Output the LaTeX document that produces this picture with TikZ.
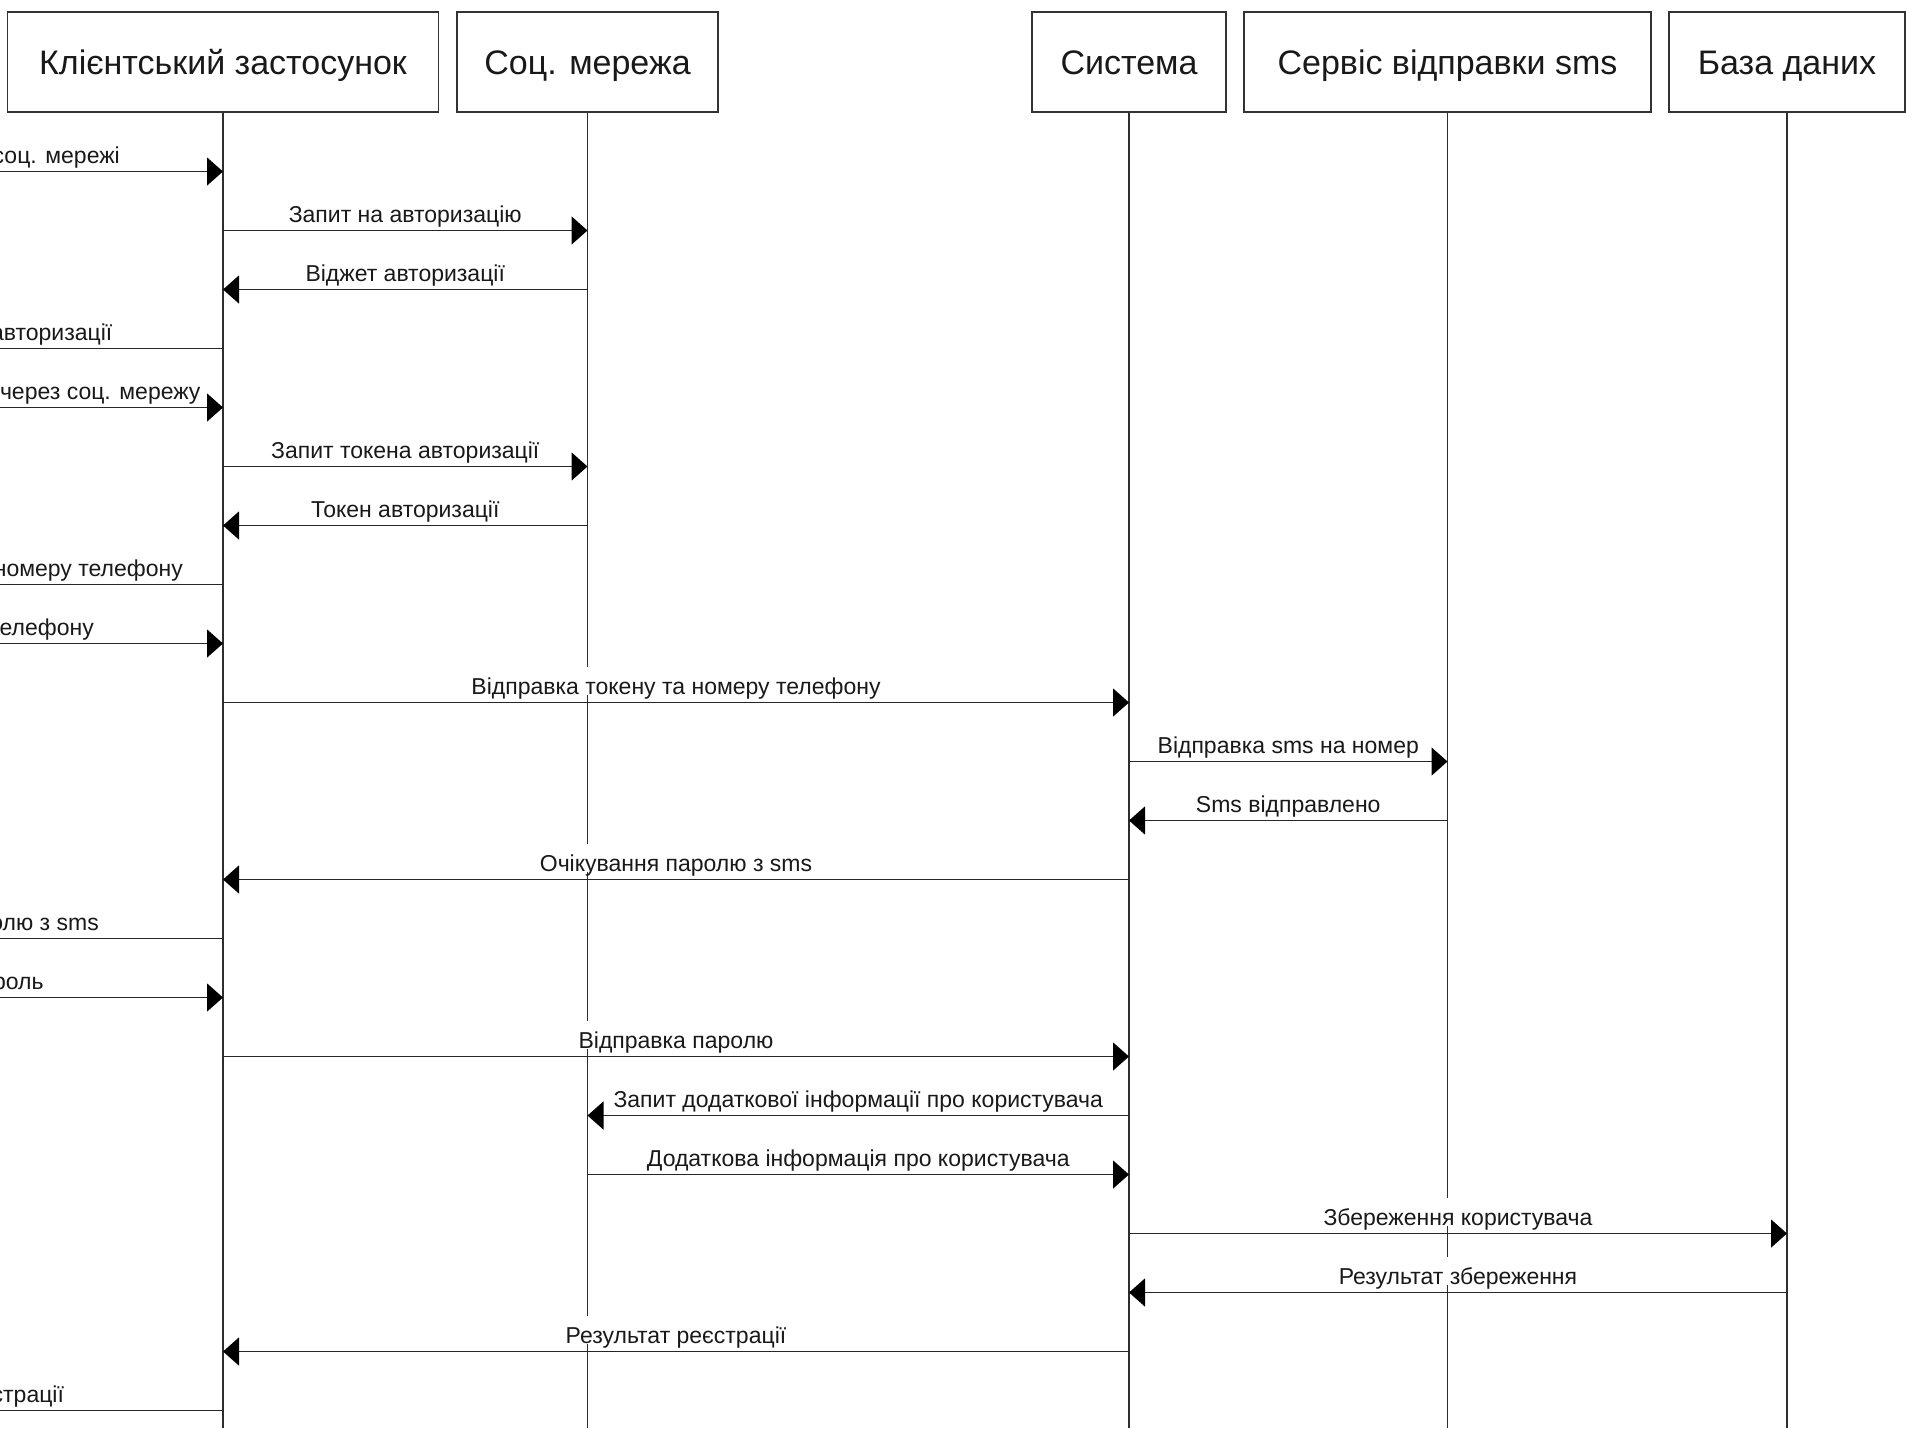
\documentclass[tikz,border=0pt]{standalone}
\usepackage{fontspec}
\setmainfont{Liberation Sans}
\usetikzlibrary{arrows.meta,calc}

% one message between two lifelines: from, to, row, label
\newcommand\sendmsg[4]{%
  \node[lbl] (l#3) at ($(#1 |- r#3)!0.5!(#2 |- r#3) + (0,-8)$) {#4};
  \draw[msg] (#1 |- r#3) -- (#2 |- r#3);}
% label of a message whose other end lies past the left edge: row, right end x, label
\newcommand\sidelbl[3]{%
  \node[lbl, anchor=base east] (l#1) at ($(r#1) + (#2,-8)$) {#3};}

\begin{document}
\begin{tikzpicture}[x=1pt, y=-1pt,
  actor/.style={draw=black!80, line width=1.5pt, fill=white, minimum height=100pt,
    inner sep=0pt, text height=24.5pt, text depth=0pt,
    font=\fontsize{34}{40}\selectfont, text=black!90},
  life/.style={draw=black!82, line width=1.6pt},
  msg/.style={draw=black!85, line width=1.5pt, -{Triangle[length=16pt,width=28pt,black]}},
  lbl/.style={fill=white, inner xsep=1pt, inner ysep=0pt, text height=28pt, text depth=0pt,
    font=\fontsize{23}{27}\selectfont, text=black!90, anchor=base},
]
\useasboundingbox (0,0) rectangle (1906,1428);
\clip (0,0) rectangle (1906,1428);

% participants
\node[actor, minimum width=431pt] (cl) at (223,62)    {Клієнтський застосунок};
\node[actor, minimum width=261pt] (sn) at (587.5,62)  {Соц. мережа};
\node[actor, minimum width=194pt] (sy) at (1129,62)   {Система};
\node[actor, minimum width=407pt] (sm) at (1447.5,62) {Сервіс відправки sms};
\node[actor, minimum width=236pt] (db) at (1787,62)   {База даних};

% lifelines
\coordinate (bot) at (0,1428);
\coordinate (usr) at (-300,0);
\foreach \n in {cl,sn,sy,sm,db}
  \draw[life] (\n.south) -- (\n.south |- bot);

% message rows
\foreach \i in {1,...,22}
  \coordinate (r\i) at (0,{171.5+59*(\i-1)});

% messages
\sidelbl{1}{121}{соц. мережі}
\draw[msg] (usr |- r1) -- (cl |- r1);
\sendmsg{cl}{sn}{2}{Запит на авторизацію}
\sendmsg{sn}{cl}{3}{Віджет авторизації}
\sidelbl{4}{113.5}{авторизації}
\draw[msg] (cl |- r4) -- (usr |- r4);
\sidelbl{5}{201.7}{через соц. мережу}
\draw[msg] (usr |- r5) -- (cl |- r5);
\sendmsg{cl}{sn}{6}{Запит токена авторизації}
\sendmsg{sn}{cl}{7}{Токен авторизації}
\sidelbl{8}{184}{номеру телефону}
\draw[msg] (cl |- r8) -- (usr |- r8);
\sidelbl{9}{95}{телефону}
\draw[msg] (usr |- r9) -- (cl |- r9);
\sendmsg{cl}{sy}{10}{Відправка токену та номеру телефону}
\sendmsg{sy}{sm}{11}{Відправка sms на номер}
\sendmsg{sm}{sy}{12}{Sms відправлено}
\sendmsg{sy}{cl}{13}{Очікування паролю з sms}
\sidelbl{14}{100}{олю з sms}
\draw[msg] (cl |- r14) -- (usr |- r14);
\sidelbl{15}{44.7}{роль}
\draw[msg] (usr |- r15) -- (cl |- r15);
\sendmsg{cl}{sy}{16}{Відправка паролю}
\sendmsg{sy}{sn}{17}{Запит додаткової інформації про користувача}
\sendmsg{sn}{sy}{18}{Додаткова інформація про користувача}
\sendmsg{sy}{db}{19}{Збереження користувача}
\sendmsg{db}{sy}{20}{Результат збереження}
\sendmsg{sy}{cl}{21}{Результат реєстрації}
\sidelbl{22}{65.2}{страції}
\draw[msg] (cl |- r22) -- (usr |- r22);
\end{tikzpicture}
\end{document}
